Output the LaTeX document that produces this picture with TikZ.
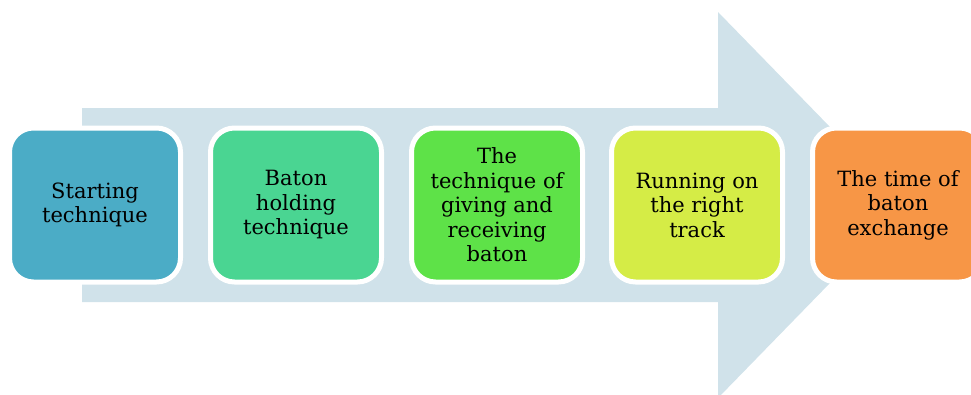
\documentclass[tikz,border=0pt]{standalone}
\usepackage{fontspec}
\setmainfont{DejaVu Serif}
\definecolor{arrowblue}{RGB}{208,226,234}
\definecolor{startblue}{RGB}{75,172,198}
\definecolor{holdgreen}{RGB}{74,213,146}
\definecolor{givegreen}{RGB}{94,226,72}
\definecolor{tracklime}{RGB}{213,236,70}
\definecolor{timeorange}{RGB}{247,150,70}

\begin{document}
\begin{tikzpicture}[x=1pt,y=-1pt,
    stepbox/.style={draw=white, line width=5pt, rounded corners=24pt,
      minimum width=171pt, minimum height=154pt, inner sep=0pt,
      align=center, font=\fontsize{21}{24.5}\selectfont}]
    \useasboundingbox (0,0) rectangle (971,394);
    \clip (0,0) rectangle (971,394);

    % big arrow behind the steps
    \fill[arrowblue] (82,108) -- (718,108) -- (718,12) -- (906,205)
      -- (718,398) -- (718,302) -- (82,302) -- cycle;

    \node[stepbox, fill=startblue] (start) at (95,205) {Starting\\technique};
    \node[stepbox, fill=holdgreen] (hold) at (296,205) {Baton\\holding\\technique};
    \node[stepbox, fill=givegreen] (give) at (497,205) {The\\technique of\\giving and\\receiving\\baton};
    \node[stepbox, fill=tracklime] (track) at (697,205) {Running on\\the right\\track};
    \node[stepbox, fill=timeorange] (time) at (898,205) {The time of\\baton\\exchange};
  \end{tikzpicture}
\end{document}
